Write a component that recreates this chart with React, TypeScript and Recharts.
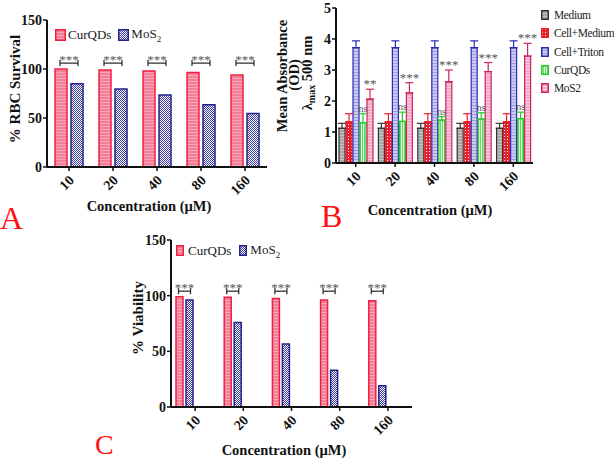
import React from "react";
import { BarChart, Bar, XAxis, YAxis, ErrorBar, LabelList } from "recharts";

const FONT = "'Liberation Serif', 'Times New Roman', serif";

const concentrations = ["10", "20", "40", "80", "160"];

// A: % RBC survival
const rbcCurQDs = [100, 99, 98, 96.5, 94];
const rbcMoS2 = [85, 79.5, 73.5, 63.5, 54.5];
const rbcSig = ["***", "***", "***", "***", "***"];
const rbcBracket = 106;

// B: mean absorbance, lambda max 500 nm
const absMedium = [1.12, 1.12, 1.12, 1.12, 1.12];
const absMediumErr = [0.16, 0.16, 0.16, 0.16, 0.16];
const absCellMedium = [1.33, 1.33, 1.33, 1.33, 1.33];
const absCellMediumErr = [0.26, 0.26, 0.26, 0.26, 0.26];
const absTriton = [3.72, 3.72, 3.72, 3.72, 3.72];
const absTritonErr = [0.22, 0.22, 0.22, 0.22, 0.22];
const absCurQDs = [1.3, 1.34, 1.38, 1.42, 1.43];
const absCurQDsErr = [0.29, 0.3, 0.12, 0.2, 0.21];
const absMoS2 = [2.06, 2.26, 2.62, 2.95, 3.45];
const absMoS2Err = [0.32, 0.33, 0.38, 0.29, 0.41];
const absCurSig = ["ns", "ns", "ns", "ns", "ns"];
const absMoSig = ["**", "***", "***", "***", "***"];

// C: % viability
const viaCurQDs = [99, 98.5, 97.5, 96, 95.5];
const viaMoS2 = [96, 76, 56.5, 33, 19];
const viaSig = ["***", "***", "***", "***", "***"];
const viaBracket = 104;

const rbcData = concentrations.map((c, i) => ({
  c,
  cur: rbcCurQDs[i],
  mos: rbcMoS2[i],
  sig: rbcSig[i],
}));

const absData = concentrations.map((c, i) => ({
  c,
  med: absMedium[i],
  medErr: [0, absMediumErr[i]],
  cm: absCellMedium[i],
  cmErr: [0, absCellMediumErr[i]],
  tri: absTriton[i],
  triErr: [0, absTritonErr[i]],
  cur: absCurQDs[i],
  curErr: [0, absCurQDsErr[i]],
  mos: absMoS2[i],
  mosErr: [0, absMoS2Err[i]],
  curSig: absCurSig[i],
  mosSig: absMoSig[i],
}));

const viaData = concentrations.map((c, i) => ({
  c,
  cur: viaCurQDs[i],
  mos: viaMoS2[i],
  sig: viaSig[i],
}));

const XTick = ({ x, y, payload }: any) => (
  <text
    x={x + 6}
    y={y + 8}
    transform={`rotate(-45 ${x + 6} ${y + 8})`}
    textAnchor="end"
    fontFamily={FONT}
    fontWeight="bold"
    fontSize={14}
    fill="#111"
  >
    {payload.value}
  </text>
);

const yTick = { fontFamily: FONT, fontWeight: "bold" as const, fontSize: 14, fill: "#111" };

// bracket between a pair of bars, placed at a value level through the bar's own scale
const makeBracket = (vals: number[], level: number, gap: number) => (props: any) => {
  const { x, y, width, height, index, value } = props;
  const base = y + height;
  const py = base - (level * height) / vals[index];
  const x1 = x + width / 2 - 1;
  const x2 = x + width * 1.5 + gap + 1;
  return (
    <g>
      <line x1={x1} x2={x2} y1={py} y2={py} stroke="#333" strokeWidth={1.3} />
      <line x1={x1} x2={x1} y1={py - 3} y2={py + 3} stroke="#333" strokeWidth={1.3} />
      <line x1={x2} x2={x2} y1={py - 3} y2={py + 3} stroke="#333" strokeWidth={1.3} />
      <text x={(x1 + x2) / 2} y={py + 1} textAnchor="middle" fontFamily={FONT} fontSize={13} fill="#555">
        {value}
      </text>
    </g>
  );
};

// text above an error bar cap
const makeSig = (vals: number[], errs: number[], lift: number, size: number) => (props: any) => {
  const { x, y, width, height, index, value } = props;
  const base = y + height;
  const py = base - ((vals[index] + errs[index]) * height) / vals[index];
  return (
    <text x={x + width / 2} y={py - lift} textAnchor="middle" fontFamily={FONT} fontSize={size} fill="#555">
      {value}
    </text>
  );
};

const Swatch = ({ fill, stroke, w, h }: { fill: string; stroke: string; w: number; h: number }) => (
  <svg width={w} height={h} style={{ display: "block" }}>
    <rect x={0.75} y={0.75} width={w - 1.5} height={h - 1.5} fill={fill} stroke={stroke} strokeWidth={1.5} />
  </svg>
);

const legendBText = ["Medium", "Cell+Medium", "Cell+Triton", "CurQDs", "MoS2"];
const legendBFill = ["url(#pMed)", "url(#pCellMed)", "url(#pTri)", "url(#pGreen)", "url(#pPink)"];
const legendBStroke = ["#333", "#e8202c", "#2b2bb5", "#22cc22", "#cc2266"];

const axisLine = { stroke: "#111", strokeWidth: 2 };
const tickLine = { stroke: "#111", strokeWidth: 1.5 };

export default function App() {
  return (
    <div style={{ position: "absolute", left: 0, top: 0, width: 614, height: 461, background: "#fff", fontFamily: FONT }}>
      <svg width={614} height={461} style={{ position: "absolute", left: 0, top: 0 }}>
        <defs>
          <pattern id="pCur" width="3" height="3" patternUnits="userSpaceOnUse">
            <rect width="3" height="3" fill="#f47d98" />
            <rect width="3" height="1" fill="#f8a8ba" />
          </pattern>
          <pattern id="pMos" width="2" height="2" patternUnits="userSpaceOnUse">
            <rect width="2" height="2" fill="#ffffff" />
            <rect width="1" height="1" fill="#3a3aa6" />
            <rect x="1" y="1" width="1" height="1" fill="#3a3aa6" />
          </pattern>
          <pattern id="pMed" width="3" height="3" patternUnits="userSpaceOnUse">
            <rect width="3" height="3" fill="#a8a8a8" />
            <rect width="3" height="1" fill="#c4c4c4" />
          </pattern>
          <pattern id="pCellMed" width="3" height="3" patternUnits="userSpaceOnUse">
            <rect width="3" height="3" fill="#e8202c" />
            <rect x="1" y="1" width="1" height="1" fill="#ffffff" />
          </pattern>
          <pattern id="pTri" width="3" height="3" patternUnits="userSpaceOnUse">
            <rect width="3" height="3" fill="#cacaf2" />
            <rect width="3" height="1" fill="#9f9fe0" />
          </pattern>
          <pattern id="pGreen" width="2" height="2" patternUnits="userSpaceOnUse">
            <rect width="2" height="2" fill="#e4f9de" />
            <rect width="1" height="2" fill="#66dd66" />
          </pattern>
          <pattern id="pPink" width="3" height="3" patternUnits="userSpaceOnUse">
            <rect width="3" height="3" fill="#f3a8c7" />
            <rect width="3" height="1" fill="#f8cfe0" />
          </pattern>
        </defs>

        {/* axis titles */}
        <text transform="translate(20 89) rotate(-90)" textAnchor="middle" fontWeight="bold" fontSize={15} fill="#111">
          % RBC Survival
        </text>
        <text x={149} y={211} textAnchor="middle" fontWeight="bold" fontSize={14.5} fill="#111">
          Concentration (µM)
        </text>

        <text transform="translate(287 76) rotate(-90)" textAnchor="middle" fontWeight="bold" fontSize={14.5} fill="#111">
          Mean Absorbance
        </text>
        <text transform="translate(299 75) rotate(-90)" textAnchor="middle" fontWeight="bold" fontSize={14.5} fill="#111">
          (OD)
        </text>
        <text transform="translate(312 73) rotate(-90)" textAnchor="middle" fontWeight="bold" fontSize={14.5} fill="#111">
          λ<tspan fontSize={10} dy={3}>max</tspan>
          <tspan dy={-3}> 500 nm</tspan>
        </text>
        <text x={430} y={215} textAnchor="middle" fontWeight="bold" fontSize={14.5} fill="#111">
          Concentration (µM)
        </text>

        <text transform="translate(143 318) rotate(-90)" textAnchor="middle" fontWeight="bold" fontSize={15} fill="#111">
          % Viability
        </text>
        <text x={284} y={455} textAnchor="middle" fontWeight="bold" fontSize={14.5} fill="#111">
          Concentration (µM)
        </text>

        {/* panel letters */}
        <text x={0} y={229} fontSize={32} fill="#ff1010">A</text>
        <text x={321} y={227} fontSize={32} fill="#ff1010">B</text>
        <text x={95} y={454} fontSize={28} fill="#ff1010">C</text>
      </svg>

      {/* Panel A */}
      <div style={{ position: "absolute", left: 0, top: 0 }}>
        <BarChart width={280} height={230} data={rbcData} margin={{ top: 20, right: 13, bottom: 23, left: 0 }} barCategoryGap={8} barGap={4}>
          <XAxis dataKey="c" height={40} axisLine={axisLine} tickLine={tickLine} tickSize={4} tick={<XTick />} interval={0} />
          <YAxis width={47} domain={[0, 150]} ticks={[0, 50, 100, 150]} axisLine={axisLine} tickLine={tickLine} tickSize={4} tickMargin={1} tick={yTick} />
          <Bar dataKey="cur" fill="url(#pCur)" stroke="#ee2040" strokeWidth={1.5} isAnimationActive={false}>
            <LabelList dataKey="sig" content={makeBracket(rbcCurQDs, rbcBracket, 4)} />
          </Bar>
          <Bar dataKey="mos" fill="url(#pMos)" stroke="#23238a" strokeWidth={1.5} isAnimationActive={false} />
        </BarChart>
      </div>

      {/* Panel B */}
      <div style={{ position: "absolute", left: 290, top: 0 }}>
        <BarChart width={260} height={230} data={absData} margin={{ top: 8, right: 17, bottom: 27, left: 0 }} barCategoryGap={3} barGap={1}>
          <XAxis dataKey="c" height={40} axisLine={axisLine} tickLine={tickLine} tickSize={4} tick={<XTick />} interval={0} />
          <YAxis width={46} domain={[0, 5]} ticks={[0, 1, 2, 3, 4, 5]} axisLine={axisLine} tickLine={tickLine} tickSize={4} tickMargin={1} tick={yTick} />
          <Bar dataKey="med" fill="url(#pMed)" stroke="#333" strokeWidth={1.2} isAnimationActive={false}>
            <ErrorBar dataKey="medErr" direction="y" width={4} stroke="#333" strokeWidth={1.2} />
          </Bar>
          <Bar dataKey="cm" fill="url(#pCellMed)" stroke="#e8202c" strokeWidth={1.2} isAnimationActive={false}>
            <ErrorBar dataKey="cmErr" direction="y" width={4} stroke="#e8202c" strokeWidth={1.2} />
          </Bar>
          <Bar dataKey="tri" fill="url(#pTri)" stroke="#2b2bb5" strokeWidth={1.2} isAnimationActive={false}>
            <ErrorBar dataKey="triErr" direction="y" width={4} stroke="#2b2bb5" strokeWidth={1.2} />
          </Bar>
          <Bar dataKey="cur" fill="url(#pGreen)" stroke="#22cc22" strokeWidth={1.2} isAnimationActive={false}>
            <ErrorBar dataKey="curErr" direction="y" width={4} stroke="#22cc22" strokeWidth={1.2} />
            <LabelList dataKey="curSig" content={makeSig(absCurQDs, absCurQDsErr, 2, 10)} />
          </Bar>
          <Bar dataKey="mos" fill="url(#pPink)" stroke="#cc2266" strokeWidth={1.2} isAnimationActive={false}>
            <ErrorBar dataKey="mosErr" direction="y" width={4} stroke="#cc2266" strokeWidth={1.2} />
            <LabelList dataKey="mosSig" content={makeSig(absMoS2, absMoS2Err, 1, 13)} />
          </Bar>
        </BarChart>
      </div>

      {/* Panel C */}
      <div style={{ position: "absolute", left: 130, top: 225 }}>
        <BarChart width={300} height={236} data={viaData} margin={{ top: 15, right: 18, bottom: 14, left: 0 }} barCategoryGap={5} barGap={3}>
          <XAxis dataKey="c" height={40} axisLine={axisLine} tickLine={tickLine} tickSize={4} tick={<XTick />} interval={0} />
          <YAxis width={41} domain={[0, 150]} ticks={[0, 50, 100, 150]} axisLine={axisLine} tickLine={tickLine} tickSize={4} tickMargin={1} tick={yTick} />
          <Bar dataKey="cur" fill="url(#pCur)" stroke="#ee2040" strokeWidth={1.5} isAnimationActive={false}>
            <LabelList dataKey="sig" content={makeBracket(viaCurQDs, viaBracket, 3)} />
          </Bar>
          <Bar dataKey="mos" fill="url(#pMos)" stroke="#23238a" strokeWidth={1.5} isAnimationActive={false} />
          {/* empty slots keep the pair on the left of each tick, as in the original */}
          <Bar dataKey="padA" isAnimationActive={false} />
          <Bar dataKey="padB" isAnimationActive={false} />
        </BarChart>
      </div>

      {/* Legends */}
      <div style={{ position: "absolute", left: 55, top: 26, display: "flex", alignItems: "center", fontSize: 13, color: "#222" }}>
        <Swatch fill="url(#pCur)" stroke="#ee2040" w={11} h={12} />
        <span style={{ marginLeft: 2, marginRight: 7 }}>CurQDs</span>
        <Swatch fill="url(#pMos)" stroke="#23238a" w={11} h={12} />
        <span style={{ marginLeft: 2 }}>
          MoS<sub style={{ fontSize: 9 }}>2</sub>
        </span>
      </div>

      <div style={{ position: "absolute", left: 176, top: 242, display: "flex", alignItems: "center", fontSize: 13, color: "#222" }}>
        <Swatch fill="url(#pCur)" stroke="#ee2040" w={8} h={11} />
        <span style={{ marginLeft: 4, marginRight: 8 }}>CurQDs</span>
        <Swatch fill="url(#pMos)" stroke="#23238a" w={8} h={11} />
        <span style={{ marginLeft: 3 }}>
          MoS<sub style={{ fontSize: 9 }}>2</sub>
        </span>
      </div>

      <div style={{ position: "absolute", left: 541, top: 6, fontSize: 11.5, letterSpacing: -0.4, color: "#222", whiteSpace: "nowrap" }}>
        {legendBText.map((t, i) => (
          <div key={t} style={{ display: "flex", alignItems: "center", height: 18.3 }}>
            <Swatch fill={legendBFill[i]} stroke={legendBStroke[i]} w={8} h={10} />
            <span style={{ marginLeft: 5 }}>{t}</span>
          </div>
        ))}
      </div>
    </div>
  );
}
